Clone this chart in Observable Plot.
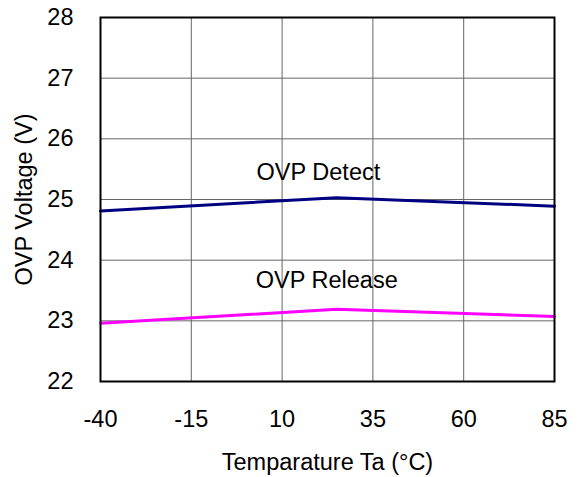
<!DOCTYPE html>
<html>
<head>
<meta charset="utf-8">
<script src="https://cdn.jsdelivr.net/npm/d3@7"></script>
<script src="https://cdn.jsdelivr.net/npm/@observablehq/plot@0.6"></script>
<style>
  html, body { margin: 0; padding: 0; background: #fff; }
  #chart svg { display: block; }
</style>
</head>
<body>
<div id="chart"></div>
<script>
// Data
const temps = [-40, 25, 85];
const detect = [24.81, 25.03, 24.89];
const release = [22.96, 23.19, 23.07];

const xTicks = [-40, -15, 10, 35, 60, 85];
const yTicks = [22, 23, 24, 25, 26, 27, 28];

const seriesNames = ["OVP Detect", "OVP Release"];
const labelX = [20, 22.3];
const labelY = [25.45, 23.67];

const xTitle = "Temparature Ta (°C)";
const yTitle = "OVP Voltage (V)";

const detectRows = temps.map((t, i) => ({t, v: detect[i]}));
const releaseRows = temps.map((t, i) => ({t, v: release[i]}));
const labelRows = seriesNames.map((name, i) => ({name, x: labelX[i], y: labelY[i]}));

const font = "'Liberation Sans', Arial, sans-serif";
const fs = 23.5;

const chart = Plot.plot({
  width: 579,
  height: 477,
  marginLeft: 100,
  marginRight: 25,
  marginTop: 17,
  marginBottom: 96,
  style: {fontFamily: font, fontSize: fs + "px", color: "#000", background: "#fff"},
  x: {domain: [-40, 85]},
  y: {domain: [22, 28]},
  marks: [
    Plot.ruleY(yTicks, {stroke: "#666", strokeWidth: 1}),
    Plot.ruleX(xTicks, {stroke: "#666", strokeWidth: 1}),
    Plot.axisX(xTicks, {tickSize: 0, tickPadding: 29, fontSize: fs, label: null, tickFormat: d => String(d)}),
    Plot.axisY(yTicks, {tickSize: 0, tickPadding: 27, fontSize: fs, label: null, tickFormat: d => String(d)}),
    Plot.line(detectRows, {x: "t", y: "v", stroke: "#000080", strokeWidth: 3}),
    Plot.line(releaseRows, {x: "t", y: "v", stroke: "#ff00ff", strokeWidth: 3}),
    Plot.text(labelRows, {x: "x", y: "y", text: "name", fontSize: fs, fill: "#000", textAnchor: "middle", lineAnchor: "middle"}),
    Plot.text([xTitle], {frameAnchor: "bottom", text: d => d, dy: 81, fontSize: fs, fill: "#000", textAnchor: "middle", lineAnchor: "middle"}),
    Plot.text([yTitle], {frameAnchor: "left", text: d => d, dx: -76, rotate: -90, fontSize: fs, fill: "#000", textAnchor: "middle", lineAnchor: "middle"}),
    Plot.frame({stroke: "#000", strokeWidth: 2})
  ]
});
document.getElementById("chart").appendChild(chart);
</script>
</body>
</html>
